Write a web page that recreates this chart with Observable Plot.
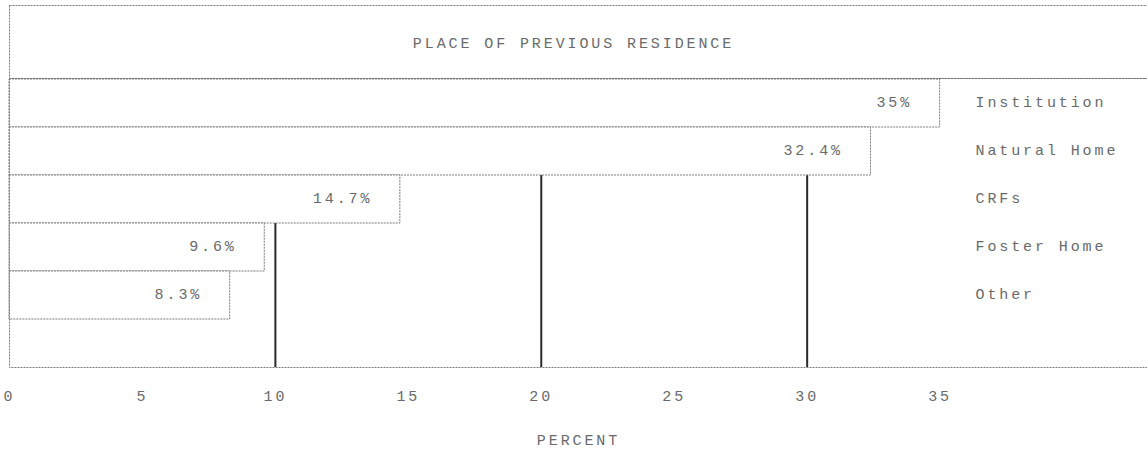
<!DOCTYPE html>
<html>
<head>
<meta charset="utf-8">
<script src="https://cdn.jsdelivr.net/npm/d3@7"></script>
<script src="https://cdn.jsdelivr.net/npm/@observablehq/plot@0.6"></script>
<style>
  html, body { margin: 0; padding: 0; background: #fff; }
</style>
</head>
<body>
<div id="chart"></div>
<script>
const title = "PLACE OF PREVIOUS RESIDENCE";
const categories = ["Institution", "Natural Home", "CRFs", "Foster Home", "Other"];
const values = [35, 32.4, 14.7, 9.6, 8.3];
const valueLabels = ["35%", "32.4%", "14.7%", "9.6%", "8.3%"];
const xTicks = [0, 5, 10, 15, 20, 25, 30, 35];
const gridValues = [10, 20, 30];
const axisTitle = "PERCENT";

const data = categories.map((c, i) => ({category: c, value: values[i], label: valueLabels[i]}));
const blankRow = " ";

const lineColor = "#7a7a7a";
const dash = "2 1";
const textColor = "#6a6a6a";

const chart = Plot.plot({
  width: 1147,
  height: 451,
  marginTop: 78,
  marginBottom: 84,
  marginLeft: 9,
  marginRight: 0,
  style: {
    fontFamily: "'Liberation Mono', 'DejaVu Sans Mono', monospace",
    fontSize: "15px",
    color: textColor,
    background: "#fff",
    letterSpacing: "2.9px"
  },
  x: {domain: [0, 42.8], ticks: xTicks, tickSize: 0, tickPadding: 23, label: null},
  y: {domain: [...categories, blankRow], padding: 0, axis: null},
  marks: [
    Plot.ruleX(gridValues, {stroke: "#2a2a2a", strokeWidth: 2}),
    Plot.barX(data, {x: "value", y: "category", fill: "#fff", stroke: lineColor, strokeDasharray: dash, strokeWidth: 1}),
    Plot.frame({stroke: lineColor, strokeDasharray: dash, insetRight: -5}),
    Plot.frame({stroke: lineColor, strokeDasharray: dash, insetTop: -73, insetBottom: 289, insetRight: -5}),
    Plot.text(data, {x: "value", y: "category", text: "label", textAnchor: "end", dx: -28, dy: -1, fill: textColor}),
    Plot.text(data, {y: "category", text: "category", frameAnchor: "right", textAnchor: "start", dx: -172, dy: -1, fill: textColor}),
    Plot.text([title], {text: d => d, frameAnchor: "top", dy: -41, dx: -5, fill: textColor}),
    Plot.text([axisTitle], {text: d => d, frameAnchor: "bottom", dy: 77, fill: textColor})
  ]
});
document.getElementById("chart").appendChild(chart);
</script>
</body>
</html>
